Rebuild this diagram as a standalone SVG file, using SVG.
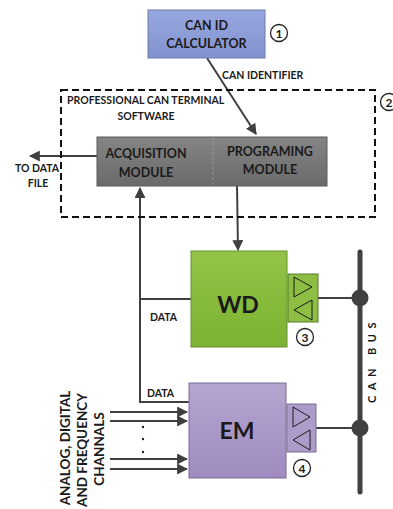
<svg xmlns="http://www.w3.org/2000/svg" width="393" height="509" viewBox="0 0 393 509">
<defs>
<style>
text{font-family:Lato,"Open Sans","Liberation Sans",sans-serif;font-weight:bold;fill:#1a1a1a}
.lbl{font-size:10.5px}
.rot{font-size:13.5px}
.box{font-size:12.5px}
.big{font-size:23px}
.num{font-size:12px;text-anchor:middle}
.c{text-anchor:middle}
.ln{stroke:#404040;stroke-width:2;fill:none}
.circ{fill:#fff;stroke:#222;stroke-width:1.3}
.tri{fill:none;stroke:#1a1a1a;stroke-width:1}
</style>
<marker id="ah" viewBox="0 0 10 10" refX="9" refY="5" markerWidth="5.5" markerHeight="5.5" orient="auto-start-reverse" markerUnits="strokeWidth">
<path d="M0,0 L10,5 L0,10 z" fill="#404040"/>
</marker>
<linearGradient id="gGray" x1="0" y1="0" x2="0" y2="1"><stop offset="0" stop-color="#858585"/><stop offset="1" stop-color="#6a6a6a"/></linearGradient>
<linearGradient id="gGreen" x1="0" y1="0" x2="0" y2="1"><stop offset="0" stop-color="#93c447"/><stop offset="1" stop-color="#7cb232"/></linearGradient>
<linearGradient id="gPurple" x1="0" y1="0" x2="0" y2="1"><stop offset="0" stop-color="#b4a5d0"/><stop offset="1" stop-color="#a08cc0"/></linearGradient>
<linearGradient id="gBlue" x1="0" y1="0" x2="0" y2="1"><stop offset="0" stop-color="#98a7de"/><stop offset="1" stop-color="#8292cf"/></linearGradient>
</defs>

<g id="connectors">
<line class="ln" x1="207" y1="58" x2="256" y2="134" marker-end="url(#ah)"/>
<line class="ln" x1="97" y1="156" x2="30" y2="156" marker-end="url(#ah)"/>
<line class="ln" x1="237" y1="186" x2="238" y2="250" marker-end="url(#ah)"/>
<polyline class="ln" points="191,299 140,299"/>
<polyline class="ln" points="190,402 140,402 140,188" marker-end="url(#ah)"/>
<line class="ln" x1="110" y1="412" x2="187" y2="412" marker-end="url(#ah)"/>
<line class="ln" x1="110" y1="421" x2="187" y2="421" marker-end="url(#ah)"/>
<line class="ln" x1="110" y1="459" x2="187" y2="459" marker-end="url(#ah)"/>
<line class="ln" x1="110" y1="469" x2="187" y2="469" marker-end="url(#ah)"/>
<line class="ln" x1="318" y1="298" x2="360" y2="298"/>
<line class="ln" x1="316" y1="428" x2="360" y2="428"/>
</g>

<g id="can-bus">
<line x1="360" y1="252" x2="360" y2="492" stroke="#404040" stroke-width="5" stroke-linecap="round"/>
<circle cx="360" cy="298" r="8.5" fill="#404040"/>
<circle cx="360" cy="428" r="8.5" fill="#404040"/>
<text class="lbl c" transform="translate(376,360) rotate(-90)" style="font-size:11px;letter-spacing:5.5px">CAN BUS</text>
</g>

<g id="can-id-calculator">
<rect x="148" y="10" width="117" height="48" fill="url(#gBlue)" stroke="#6f7aa8" stroke-width="1"/>
<text class="box c" x="206.5" y="30">CAN ID</text>
<text class="box c" x="206.5" y="48">CALCULATOR</text>
<circle class="circ" cx="279" cy="33" r="8.5"/>
<text class="num" x="279" y="37.5">1</text>
<text class="lbl" x="222" y="79">CAN IDENTIFIER</text>
</g>

<g id="software">
<rect x="61" y="90" width="314" height="127" fill="none" stroke="#111" stroke-width="2" stroke-dasharray="7,4"/>
<text class="lbl" x="67" y="104">PROFESSIONAL CAN TERMINAL</text>
<text class="lbl c" x="146" y="120">SOFTWARE</text>
<circle class="circ" cx="389" cy="102" r="8.5"/>
<text class="num" x="389" y="106.5">2</text>
</g>

<g id="modules">
<rect x="97" y="137" width="230" height="49" fill="url(#gGray)" stroke="#5a5a5a" stroke-width="1"/>
<line x1="213" y1="137" x2="213" y2="186" stroke="#a0a0a0" stroke-width="0.8" stroke-dasharray="3,2"/>
<text class="box c" x="146" y="158">ACQUISITION</text>
<text class="box c" x="146" y="177">MODULE</text>
<text class="box c" x="270" y="156">PROGRAMING</text>
<text class="box c" x="270" y="174">MODULE</text>
</g>

<g id="to-data-file">
<text class="lbl c" x="37" y="172">TO DATA</text>
<text class="lbl c" x="38" y="187">FILE</text>
</g>

<g id="wd">
<rect x="191" y="251" width="96" height="96" fill="url(#gGreen)" stroke="#6a8f35" stroke-width="1"/>
<text class="big c" x="238" y="313">WD</text>
<rect x="288" y="274" width="30" height="48" fill="#8dbe43" stroke="#5a7a2a" stroke-width="1"/>
<polygon class="tri" points="294,277 312,287 294,297"/>
<polygon class="tri" points="312,300 294,310 312,320"/>
<circle class="circ" cx="305" cy="337" r="8.5"/>
<text class="num" x="305" y="341.5">3</text>
<text class="lbl" x="150" y="321">DATA</text>
</g>

<g id="em">
<rect x="189" y="383" width="97" height="95" fill="url(#gPurple)" stroke="#7a6a98" stroke-width="1"/>
<text class="big c" x="237" y="439">EM</text>
<rect x="287" y="404" width="29" height="48" fill="#ad9cca" stroke="#7a6a98" stroke-width="1"/>
<polygon class="tri" points="293,407 310,417 293,427"/>
<polygon class="tri" points="310,430 293,440 310,450"/>
<circle class="circ" cx="302" cy="468" r="8.5"/>
<text class="num" x="302" y="472.5">4</text>
<text class="lbl" x="147" y="397">DATA</text>
</g>

<g id="channels">
<circle cx="143" cy="427" r="1.2" fill="#222"/>
<circle cx="143" cy="439" r="1.2" fill="#222"/>
<circle cx="143" cy="452" r="1.2" fill="#222"/>
<text class="rot c" transform="translate(70,448) rotate(-90)">ANALOG, DIGITAL</text>
<text class="rot c" transform="translate(87,450) rotate(-90)">AND FREQUENCY</text>
<text class="rot c" transform="translate(104,449) rotate(-90)">CHANNALS</text>
</g>
</svg>
